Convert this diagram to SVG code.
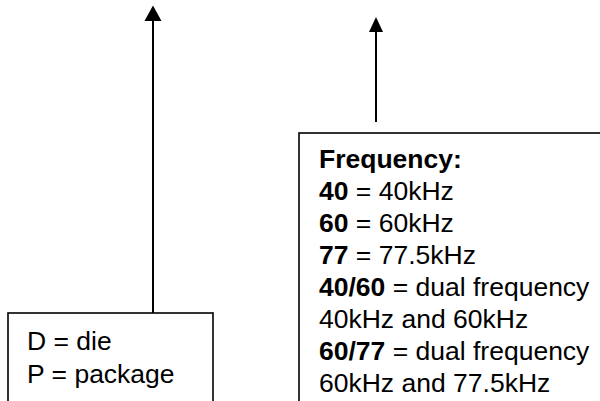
<svg xmlns="http://www.w3.org/2000/svg" width="600" height="401" viewBox="0 0 600 401">
<defs>
<style>
.box{fill:#fff;stroke:#000;stroke-width:1.6}
.t{font-family:"Liberation Sans",Arial,sans-serif;font-size:26.5px;fill:#000}
.b{font-weight:bold}
.ln{stroke:#000;stroke-width:2;fill:none}
</style>
</defs>
<rect width="600" height="401" fill="#fff"/>
<g id="connectors">
<line class="ln" x1="153" y1="313" x2="153" y2="20"/>
<polygon points="153,5.5 144.5,21 161.5,21" fill="#000"/>
<line class="ln" x1="376" y1="122" x2="376" y2="31"/>
<polygon points="376,17 369,32 383,32" fill="#000"/>
</g>
<g id="legend-left">
<rect class="box" x="8" y="313" width="205" height="100"/>
<text class="t" x="27" y="350">D = die</text>
<text class="t" x="27" y="383">P = package</text>
</g>
<g id="legend-frequency">
<rect class="box" x="299" y="133" width="310" height="280"/>
<text class="t" x="319" y="168"><tspan class="b">Frequency:</tspan></text>
<text class="t" x="319" y="200"><tspan class="b">40</tspan> = 40kHz</text>
<text class="t" x="319" y="232"><tspan class="b">60</tspan> = 60kHz</text>
<text class="t" x="319" y="264"><tspan class="b">77</tspan> = 77.5kHz</text>
<text class="t" x="319" y="296"><tspan class="b">40/60</tspan> = dual frequency</text>
<text class="t" x="319" y="328">40kHz and 60kHz</text>
<text class="t" x="319" y="360"><tspan class="b">60/77</tspan> = dual frequency</text>
<text class="t" x="319" y="392">60kHz and 77.5kHz</text>
</g>
</svg>
